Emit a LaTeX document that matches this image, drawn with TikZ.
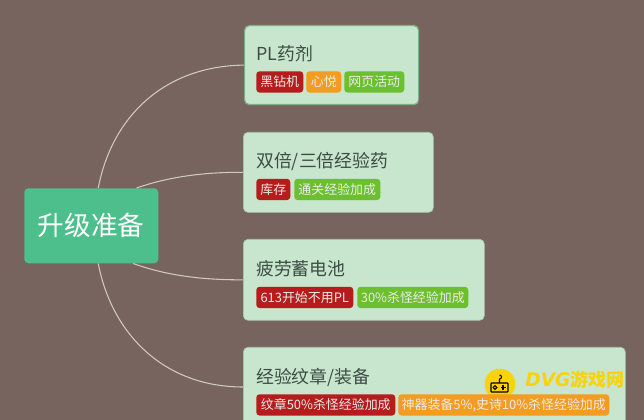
\documentclass[tikz,border=0pt]{standalone}
\usepackage{fontspec}
\setmainfont{Noto Sans CJK SC}
\newfontfamily\lat{DejaVu Sans}
\definecolor{bgc}{HTML}{77645F}
\definecolor{boxc}{HTML}{C7E6CD}
\definecolor{rootc}{HTML}{4DBF8D}
\definecolor{redc}{HTML}{B71C1C}
\definecolor{orgc}{HTML}{F39C1F}
\definecolor{grnc}{HTML}{6CBF2E}
\definecolor{titc}{HTML}{3D4C44}
\definecolor{linec}{HTML}{CFC9C3}
\definecolor{wmc}{HTML}{F8D30C}
\definecolor{selc}{HTML}{7DAF80}
\tikzset{
  x=0.75pt,y=-0.75pt,
  card/.style={rectangle,rounded corners=3.5pt,fill=boxc,draw=boxc!85!black,line width=0.5pt,inner sep=0pt,anchor=north west},
  cardsel/.style={card,draw=selc,line width=0.9pt},
  roottopic/.style={rectangle,rounded corners=3pt,fill=rootc,text=white,inner sep=0pt,minimum width=100.5pt,minimum height=56.25pt,font=\fontsize{20pt}{24pt}\selectfont,anchor=north west},
  title/.style={anchor=west,inner sep=0pt,text=titc,font=\fontsize{13.4pt}{16pt}\selectfont},
  tag/.style={rectangle,rounded corners=2.5pt,text=white!92!black,inner sep=0pt,minimum height=16pt,anchor=north west,font=\fontsize{9.7pt}{12pt}\selectfont},
  redtag/.style={tag,fill=redc},
  orgtag/.style={tag,fill=orgc},
  grntag/.style={tag,fill=grnc},
  conn/.style={draw=linec,line width=0.8pt},
}
\begin{document}
\begin{tikzpicture}
\useasboundingbox (0,0) rectangle (644,420);
\clip (0,0) rectangle (644,420);
\fill[bgc] (0,0) rectangle (644,420);
\node[cardsel,minimum width=130.5pt,minimum height=59.25pt] (c1) at (244,25) {};
\node[card,minimum width=142.5pt,minimum height=60pt] (c2) at (243,132) {};
\node[card,minimum width=180.75pt,minimum height=60.75pt] (c3) at (243,239) {};
\node[card,minimum width=286.5pt,minimum height=75pt] (c4) at (243,347) {};
\node[roottopic] (root) at (24,188) {升级准备};
\coordinate (r1) at ([xshift=5.25pt]root.north);
\coordinate (r2) at ([xshift=34pt]root.north);
\coordinate (r3) at ([xshift=31.5pt]root.south);
\coordinate (r4) at ([xshift=5.25pt]root.south);
\draw[conn] (r1) .. controls (112,116) and (165,66) .. (c1.west);
\draw[conn] (r2) .. controls (165,178) and (200,172) .. (c2.west);
\draw[conn] (r3) .. controls (165,275) and (200,280) .. (c3.west);
\draw[conn] (r4) .. controls (112,335) and (165,387) .. (c4.west |- 0,387);
\node[title] (t1) at (256,54) {PL药剂};
\node[title] (t2) at (256,162) {双倍/三倍经验药};
\node[title] (t3) at (256,269) {疲劳蓄电池};
\node[title] (t4) at (256,377) {经验纹章/装备};
% watermark, under the tags
\fill[wmc] (500,384) circle (11.5pt);
\draw[black,line width=0.9pt,rounded corners=0.6pt] (491,383) rectangle (508,392);
\draw[black,line width=0.8pt] (499.5,383) -- (499.5,379) arc (-90:90:1.5pt) ;
\draw[black,line width=0.8pt] (495,387.5) circle (1.4pt);
\draw[black,line width=0.9pt] (500.5,387.5) -- (505.5,387.5) (503,385) -- (503,390);
\node[anchor=west,inner sep=0pt,text=wmc,font=\fontsize{13.5pt}{16pt}\selectfont\bfseries] (wm) at (525,380) {{\lat\fontsize{14pt}{16pt}\selectfont\itshape DVG}游戏网};
\node[redtag,minimum width=35.25pt] (a1) at (256,71) {黑钻机};
\node[orgtag,minimum width=26.25pt] (a2) at (306,71) {心悦};
\node[grntag,minimum width=45pt] (a3) at (344,71) {网页活动};
\node[redtag,minimum width=25.5pt] (b1) at (256,178.5) {库存};
\node[grntag,minimum width=64.5pt] (b2) at (294,178.5) {通关经验加成};
\node[redtag,minimum width=72.75pt] (d1) at (256,286.5) {613开始不用PL};
\node[grntag,minimum width=83.25pt] (d2) at (357,286.5) {30\%杀怪经验加成};
\node[redtag,minimum width=104.25pt] (e1) at (256,394) {纹章50\%杀怪经验加成};
\node[orgtag,minimum width=158.25pt] (e2) at (398,394) {神器装备5\%,史诗10\%杀怪经验加成};
\end{tikzpicture}
\end{document}
